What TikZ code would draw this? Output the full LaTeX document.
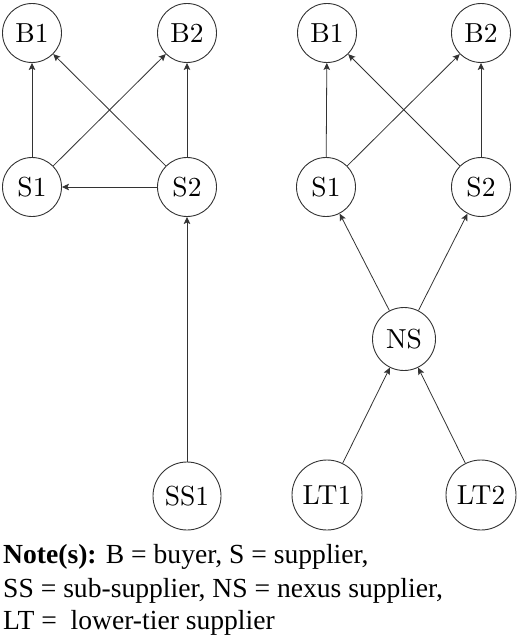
\documentclass[tikz,border=0pt]{standalone}
\usepackage{fontspec}
\usepackage{graphicx}
\newfontfamily\notefont{Liberation Serif}
\usetikzlibrary{arrows.meta}
\newcommand{\ndtxt}[1]{\scalebox{2.75}{#1}}
\begin{document}
\begin{tikzpicture}[x=1pt,y=-1pt,
  nd/.style={circle,draw=black!80,line width=0.9pt,inner sep=0pt,minimum size=#1,
    font=\fontsize{10}{12}\selectfont},
  nd/.default=59pt,
  arr/.style={-{Stealth[length=7pt,width=6.5pt,inset=1.5pt]},line width=0.8pt,draw=black!80},
  notetxt/.style={anchor=base west,inner sep=0pt,font=\notefont\fontsize{27.6}{33}\selectfont}]
\useasboundingbox (0,0) rectangle (520,642);
% left diagram
\node[nd] (lB1) at (32,33) {\ndtxt{B1}};
\node[nd] (lB2) at (187,33) {\ndtxt{B2}};
\node[nd] (lS1) at (32,187) {\ndtxt{S1}};
\node[nd] (lS2) at (187,187) {\ndtxt{S2}};
\node[nd=68pt] (lSS1) at (187,496) {\ndtxt{SS1}};
\draw[arr] (lS1) -- (lB1);
\draw[arr] (lS1) -- (lB2);
\draw[arr] (lS2) -- (lB1);
\draw[arr] (lS2) -- (lB2);
\draw[arr] (lS2) -- (lS1);
\draw[arr] (lSS1) -- (lS2);
% right diagram
\node[nd] (rB1) at (327,33) {\ndtxt{B1}};
\node[nd] (rB2) at (481,33) {\ndtxt{B2}};
\node[nd] (rS1) at (326,187) {\ndtxt{S1}};
\node[nd] (rS2) at (481,187) {\ndtxt{S2}};
\node[nd=63pt] (NS) at (404,339) {\ndtxt{NS}};
\node[nd=70pt] (LT1) at (327,495) {\ndtxt{LT1}};
\node[nd=70pt] (LT2) at (481,495) {\ndtxt{LT2}};
\draw[arr] (rS1) -- (rB1);
\draw[arr] (rS1) -- (rB2);
\draw[arr] (rS2) -- (rB1);
\draw[arr] (rS2) -- (rB2);
\draw[arr] (NS) -- (rS1);
\draw[arr] (NS) -- (rS2);
\draw[arr] (LT1) -- (NS);
\draw[arr] (LT2) -- (NS);
% note
\node[notetxt] (note1) at (3,563) {\textbf{Note(s):} B = buyer, S = supplier,};
\node[notetxt] (note2) at (3,597) {SS = sub-supplier, NS = nexus supplier,};
\node[notetxt] (note3) at (3,629) {LT = \ lower-tier supplier};
\end{tikzpicture}
\end{document}
